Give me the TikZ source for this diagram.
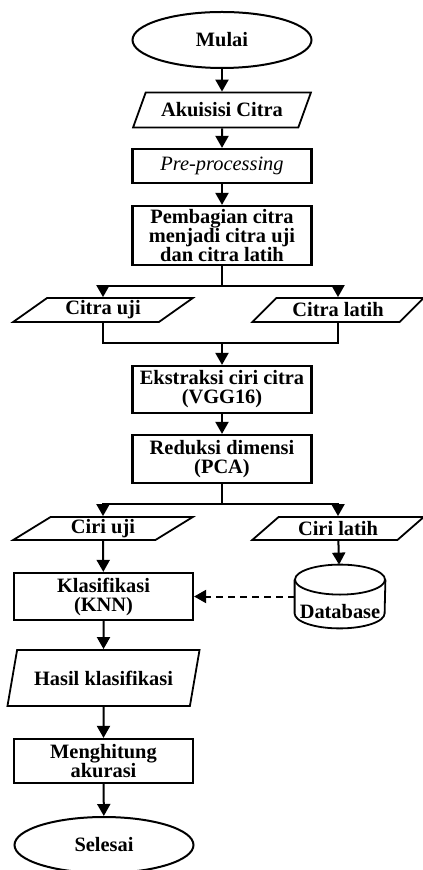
\documentclass[tikz,border=0pt]{standalone}
\usepackage{fontspec}
\setmainfont{Liberation Serif}
\usetikzlibrary{shapes.geometric,arrows.meta}

\begin{document}
\begin{tikzpicture}[x=0.5pt,y=-0.5pt,
  every node/.style={font=\fontsize{10.2}{9.5}\selectfont\bfseries,align=center},
  terminal/.style={draw,ellipse,line width=1pt,minimum width=89.5pt,minimum height=28pt,inner sep=0pt},
  proses/.style={draw,rectangle,line width=1.1pt,minimum width=89.5pt,inner sep=1pt},
  data/.style={draw,trapezium,trapezium stretches=true,line width=0.9pt,inner sep=0pt},
  basisdata/.style={rectangle,minimum width=45pt,minimum height=31.5pt,inner sep=0pt},
  alir/.style={line width=1pt,-{Triangle[length=6pt,width=6.5pt]}}]
\useasboundingbox (0,0) rectangle (422,870);

\node[terminal] (mulai) at (222,40) {Mulai};
\node[data,trapezium left angle=55,trapezium right angle=125,minimum width=89.5pt,minimum height=17.5pt] (akuisisi) at (222,110) {Akuisisi Citra};
\node[proses,minimum height=17pt,font=\fontsize{10.2}{9.5}\selectfont\itshape] (prep) at (222,166) {Pre-processing};
\node[proses,minimum height=29.5pt] (pembagian) at (222,235.5) {Pembagian citra\\menjadi citra uji\\dan citra latih};
\coordinate (cabang1) at (222,286);

\node[data,trapezium left angle=39,trapezium right angle=141,minimum width=90pt,minimum height=12pt] (citrauji) at (103,310) {Citra uji};
\node[data,trapezium left angle=39,trapezium right angle=141,minimum width=86pt,minimum height=12pt] (citralatih) at (338,310) {Citra latih};
\coordinate (gabung) at (222,343);

\node[proses,minimum height=23.5pt] (ekstraksi) at (222,389.5) {Ekstraksi ciri citra\\(VGG16)};
\node[proses,minimum height=24pt] (reduksi) at (222,459) {Reduksi dimensi\\(PCA)};
\coordinate (cabang2) at (222,504);

\node[data,trapezium left angle=39,trapezium right angle=141,minimum width=90pt,minimum height=11.5pt] (ciriuji) at (103,528.5) {Ciri uji};
\node[data,trapezium left angle=39,trapezium right angle=141,minimum width=86pt,minimum height=11.5pt] (cirilatih) at (338,528.5) {Ciri latih};

\node[proses,minimum height=23.5pt] (klasifikasi) at (103.5,596.5) {Klasifikasi\\(KNN)};
% database: cylinder drawn round the db node
\node[basisdata] (db) at (340,596.5) {};
\draw[line width=0.9pt] ([yshift=-7.5pt]db.north) ellipse [x radius=22.5pt,y radius=7.5pt];
\draw[line width=0.9pt] ([yshift=-7.5pt]db.north west) -- ([yshift=7.5pt]db.south west)
  arc [start angle=180,end angle=360,x radius=22.5pt,y radius=7.5pt] -- ([yshift=-7.5pt]db.north east);
\node (dbteks) at (340,611.5) {Database};

\node[data,trapezium left angle=62,trapezium right angle=118,minimum width=96.5pt,minimum height=28pt] (hasil) at (103.5,678) {Hasil klasifikasi};
\node[proses,minimum height=22pt] (hitung) at (103.5,761) {Menghitung\\akurasi};
\node[terminal] (selesai) at (104,845) {Selesai};

\draw[alir] (mulai) -- (akuisisi);
\draw[alir] (akuisisi) -- (prep);
\draw[alir] (prep) -- (pembagian);
\draw[line width=1pt] (pembagian) -- (cabang1);
\draw[alir] (cabang1) -| (citrauji);
\draw[alir] (cabang1) -| (citralatih);
\draw[line width=1pt] (citrauji) |- (gabung);
\draw[line width=1pt] (citralatih) |- (gabung);
\draw[alir] (gabung) -- (ekstraksi);
\draw[alir] (ekstraksi) -- (reduksi);
\draw[line width=1pt] (reduksi) -- (cabang2);
\draw[alir] (cabang2) -| (ciriuji);
\draw[alir] (cabang2) -| (cirilatih);
\draw[alir] (ciriuji) -- (klasifikasi);
\draw[alir] (cirilatih) -- (db);
\draw[alir,dash pattern=on 3.5pt off 2.5pt] (db) -- (klasifikasi);
\draw[alir] (klasifikasi) -- (hasil);
\draw[alir] (hasil) -- (hitung);
\draw[alir] (hitung) -- (selesai);
\end{tikzpicture}
\end{document}
